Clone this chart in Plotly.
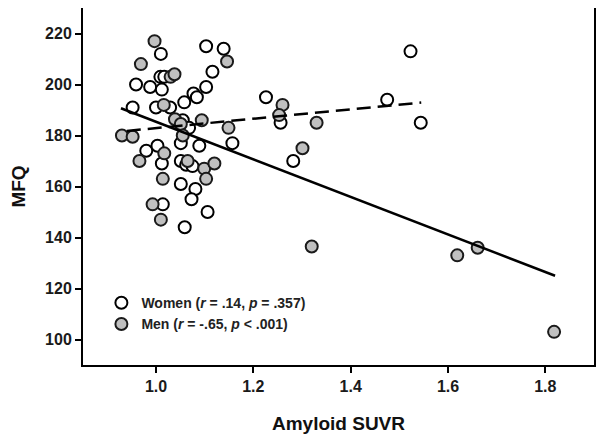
import plotly.graph_objects as go

# Women (open circles)
women_x = [0.952, 0.959, 0.988, 1.000, 1.009, 1.017, 1.010, 1.012, 1.029, 1.058,
           1.077, 1.084, 1.103, 1.103, 1.139, 1.116, 1.055, 1.068, 1.157, 1.089,
           1.051, 0.980, 1.003, 1.012, 1.051, 1.062, 1.075, 1.051, 1.081, 1.073,
           1.106, 1.014, 1.059, 1.226, 1.256, 1.282, 1.475, 1.523, 1.544]
women_y = [191, 200, 199, 191, 203, 203, 212, 198, 191, 193,
           196.5, 195, 199, 215, 214, 205, 186, 183, 177, 176,
           177, 174, 176, 169, 170, 168.5, 168, 161, 159, 155,
           150, 153, 144, 195, 185, 170, 194, 213, 185]

# Men (grey circles)
men_x = [0.997, 0.969, 1.146, 1.030, 1.038, 1.016, 1.039, 1.094, 1.051, 1.149,
         0.930, 0.952, 1.055, 0.966, 1.017, 1.065, 1.099, 1.120, 1.103, 1.014,
         0.993, 1.010, 1.260, 1.253, 1.330, 1.301, 1.320, 1.619, 1.661, 1.818]
men_y = [217, 208, 209, 203, 204, 192, 186.4, 186, 184.5, 183,
         180, 179.5, 180, 170, 173, 170, 167, 169, 163, 163,
         153, 147, 192, 188, 185, 175, 136.5, 133, 136, 103]

# Regression lines (end points)
women_fit_x = [0.94, 1.545]
women_fit_y = [181.8, 192.9]
men_fit_x = [0.928, 1.82]
men_fit_y = [190.7, 125.0]

x_ticks = [1.0, 1.2, 1.4, 1.6, 1.8]
y_ticks = [100, 120, 140, 160, 180, 200, 220]

FONT = "Liberation Sans, Arial, sans-serif"

fig = go.Figure()
fig.add_trace(go.Scatter(
    x=women_x, y=women_y, mode="markers",
    name="Women (<i>r</i> = .14, <i>p</i> = .357)",
    marker=dict(size=12, color="white", line=dict(color="black", width=2)),
))
fig.add_trace(go.Scatter(
    x=men_x, y=men_y, mode="markers",
    name="Men (<i>r</i> = -.65, <i>p</i> < .001)",
    marker=dict(size=12, color="#c0c0c0", line=dict(color="#1a1a1a", width=2)),
))
fig.add_trace(go.Scatter(
    x=women_fit_x, y=women_fit_y, mode="lines", showlegend=False,
    line=dict(color="black", width=2.5, dash="14px,7px"),
))
fig.add_trace(go.Scatter(
    x=men_fit_x, y=men_fit_y, mode="lines", showlegend=False,
    line=dict(color="black", width=2.5),
))

axis_common = dict(
    showline=True, linecolor="black", linewidth=2, mirror=True,
    ticks="outside", ticklen=6, tickwidth=1.5, tickcolor="black",
    showgrid=False, zeroline=False, automargin=False,
    tickfont=dict(family=FONT, size=16, color="#1a1a1a", weight="bold"),
)

# The page body adds an 8px offset, so the figure is sized to fit the window.
fig.update_layout(
    width=596, height=434,
    margin=dict(l=75, r=10, t=0, b=77),
    paper_bgcolor="white", plot_bgcolor="white",
    showlegend=True,
    legend=dict(
        x=0.036, y=0.218, xanchor="left", yanchor="top",
        bgcolor="rgba(0,0,0,0)",
        font=dict(family=FONT, size=14, color="#222", weight="bold"),
        itemwidth=30, tracegroupgap=0,
    ),
    xaxis=dict(
        range=[0.85, 1.90], tickvals=x_ticks,
        ticktext=[f"{v:.1f}" for v in x_ticks],
        title=dict(text="Amyloid SUVR", standoff=22,
                   font=dict(family=FONT, size=19, color="#111", weight="bold")),
        **axis_common,
    ),
    yaxis=dict(
        range=[90, 230], tickvals=y_ticks,
        title=dict(text="MFQ", standoff=19,
                   font=dict(family=FONT, size=19, color="#111", weight="bold")),
        **axis_common,
    ),
)

fig.write_html("out.html")
